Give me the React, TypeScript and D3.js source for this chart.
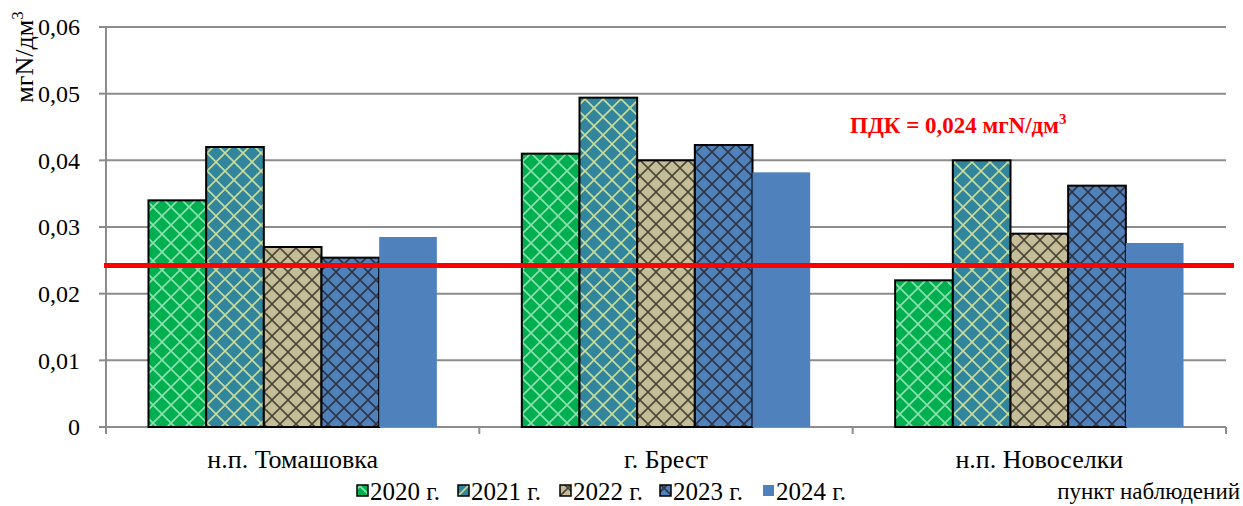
import React from "react";
import * as d3 from "d3";

const categories = ["н.п. Томашовка", "г. Брест", "н.п. Новоселки"];
const seriesNames = ["2020 г.", "2021 г.", "2022 г.", "2023 г.", "2024 г."];
const values2020 = [0.034, 0.041, 0.022];
const values2021 = [0.042, 0.0494, 0.04];
const values2022 = [0.027, 0.04, 0.029];
const values2023 = [0.0254, 0.0423, 0.0362];
const values2024 = [0.0285, 0.0382, 0.0276];
const yTicks = [0, 0.01, 0.02, 0.03, 0.04, 0.05, 0.06];
const pdk = 0.024;

const seriesValues = [values2020, values2021, values2022, values2023, values2024];
const fills = ["#00B050", "#31859C", "#C4BD97", "#4F81BD", "#4F81BD"];
const hatch = ["#8EE0AE", "#C9DC9A", "#4A4636", "#2E3440", null];
const hatchSize = [18, 18, 16, 16, 0];

const W = 1243, H = 506;
const left = 106, right = 1226, top = 27, bottom = 427;

export default function App() {
  const x0 = d3.scaleBand<string>().domain(categories).range([left, right]).paddingInner(0).paddingOuter(0);
  const x1 = d3.scaleBand<string>().domain(seriesNames).range([0, x0.bandwidth()]).paddingOuter(42.5 / 57.7).paddingInner(0);
  const y = d3.scaleLinear().domain([0, 0.06]).range([bottom, top]);
  const fmt = (v: number) => (v === 0 ? "0" : v.toFixed(2).replace(".", ","));
  const font = "'Liberation Serif', 'Times New Roman', serif";

  const legendX = [357, 458, 560, 660, 763];

  return (
    <svg width={W} height={H} style={{ position: "absolute", left: 0, top: 0 }} fontFamily={font}>
      <defs>
        {seriesNames.map((s, i) =>
          hatch[i] ? (
            <pattern key={s} id={`p${i}`} patternUnits="userSpaceOnUse" width={hatchSize[i]} height={hatchSize[i]}>
              <rect width={hatchSize[i]} height={hatchSize[i]} fill={fills[i]} />
              <path d={`M0,0L${hatchSize[i]},${hatchSize[i]}M${hatchSize[i]},0L0,${hatchSize[i]}`} stroke={hatch[i]!} strokeWidth={1.6} />
            </pattern>
          ) : null
        )}
      </defs>
      <rect width={W} height={H} fill="#fff" />
      {yTicks.map((t) => (
        <g key={t}>
          {t > 0 && <line x1={left} x2={right} y1={y(t)} y2={y(t)} stroke="#8C8C8C" strokeWidth={2} />}
          <line x1={left - 7} x2={left} y1={y(t)} y2={y(t)} stroke="#8C8C8C" strokeWidth={2} />
          <text x={left - 26} y={y(t)} dy="0.35em" textAnchor="end" fontSize={24} fill="#000">{fmt(t)}</text>
        </g>
      ))}
      <line x1={left} x2={left} y1={top} y2={bottom + 7} stroke="#8C8C8C" strokeWidth={2} />
      <line x1={left} x2={right} y1={bottom} y2={bottom} stroke="#8C8C8C" strokeWidth={2} />
      {[...categories.map((c) => x0(c)!), right].map((xx, i) => (
        <line key={i} x1={xx} x2={xx} y1={bottom} y2={bottom + 7} stroke="#8C8C8C" strokeWidth={2} />
      ))}
      {categories.map((c, ci) =>
        seriesNames.map((s, si) => {
          const v = seriesValues[si][ci];
          const bx = x0(c)! + x1(s)!;
          return (
            <rect key={c + s} x={bx} y={y(v)} width={x1.bandwidth()} height={bottom - y(v)}
              fill={hatch[si] ? `url(#p${si})` : fills[si]}
              stroke={si < 4 ? "#000" : "none"} strokeWidth={2} />
          );
        })
      )}
      <line x1={104} x2={1234} y1={y(pdk) - 1.5} y2={y(pdk) - 1.5} stroke="#FF0000" strokeWidth={5} />
      <text x={850} y={133} fontSize={23} fontWeight="bold" fill="#FF0000">
        ПДК = 0,024 мгN/дм<tspan dy={-9} fontSize={15}>3</tspan>
      </text>
      {categories.map((c) => (
        <text key={c} x={x0(c)! + x0.bandwidth() / 2} y={468} textAnchor="middle" fontSize={26} fill="#000">{c}</text>
      ))}
      {seriesNames.map((s, i) => (
        <g key={s}>
          <rect x={legendX[i]} y={485} width={11} height={11} fill={hatch[i] ? `url(#p${i})` : fills[i]} stroke={i < 4 ? "#000" : "none"} strokeWidth={1.5} />
          <text x={legendX[i] + 13} y={500} fontSize={25} fill="#000">{s}</text>
        </g>
      ))}
      <text x={1240} y={499} textAnchor="end" fontSize={23} fill="#000">пункт наблюдений</text>
      <text transform="translate(33,57) rotate(-90)" textAnchor="middle" fontSize={26} fill="#000">
        мгN/дм<tspan dy={-10} fontSize={17}>3</tspan>
      </text>
    </svg>
  );
}
